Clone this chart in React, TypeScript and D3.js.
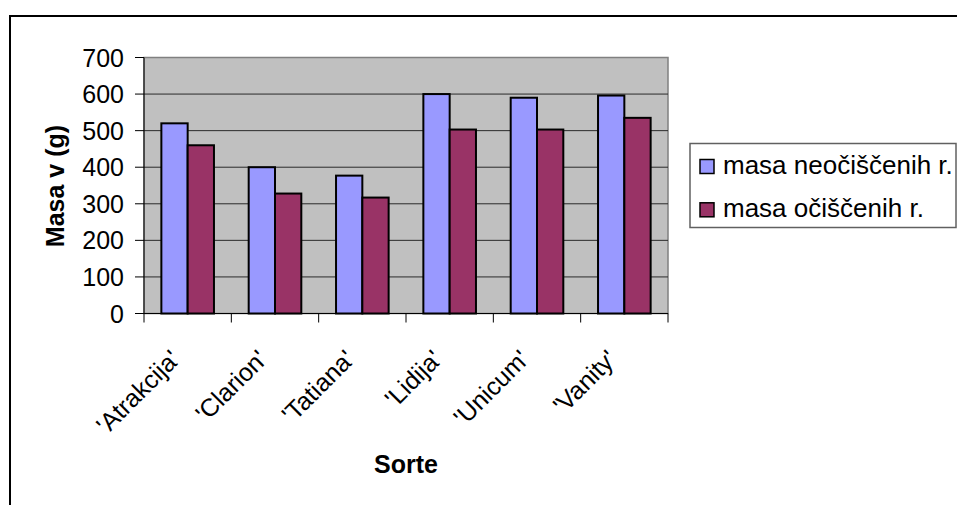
import React from "react";
import * as d3 from "d3";

// Potato varieties and mass per sample (g)
const categories = ["'Atrakcija'", "'Clarion'", "'Tatiana'", "'Lidija'", "'Unicum'", "'Vanity'"];
const seriesNames = ["masa neočiščenih r.", "masa očiščenih r."];
const uncleaned = [520, 400, 377, 600, 590, 596];
const cleaned = [460, 328, 317, 503, 503, 535];
const yTicks = [0, 100, 200, 300, 400, 500, 600, 700];
const colors = ["#9999FF", "#993366"];

const W = 957;
const H = 505;
const FONT = "'Liberation Sans', Arial, Helvetica, sans-serif";

export default function App() {
  const left = 144;
  const right = 668;
  const top = 57.5;
  const bottom = 313.5;

  const x = d3.scaleBand<string>().domain(categories).range([left, right]).paddingInner(0).paddingOuter(0);
  const y = d3.scaleLinear().domain([0, 700]).range([bottom, top]);
  const inner = d3
    .scaleBand<number>()
    .domain([0, 1])
    .range([0, x.bandwidth()])
    .paddingInner(0)
    .paddingOuter(0.66);

  const series = [uncleaned, cleaned];
  const boundaries = [...categories.map((c) => x(c) as number), right];

  return (
    <svg
      width={W}
      height={H}
      style={{ position: "absolute", left: 0, top: 0, background: "#fff" }}
      fontFamily={FONT}
    >
      {/* chart frame */}
      <rect x={10} y={16} width={1000} height={600} fill="#fff" stroke="#000" strokeWidth={2} />

      {/* plot area */}
      <rect x={left} y={top} width={right - left} height={bottom - top} fill="#C0C0C0" stroke="#808080" strokeWidth={1.5} />

      {/* gridlines */}
      {yTicks.slice(1, -1).map((t) => (
        <line key={t} x1={left} x2={right} y1={y(t)} y2={y(t)} stroke="#2a2a2a" strokeWidth={1} />
      ))}

      {/* bars */}
      {series.map((vals, si) =>
        vals.map((v, ci) => (
          <rect
            key={`${si}-${ci}`}
            x={(x(categories[ci]) as number) + (inner(si) as number)}
            y={y(v)}
            width={inner.bandwidth()}
            height={y(0) - y(v)}
            fill={colors[si]}
            stroke="#000"
            strokeWidth={2}
          />
        ))
      )}

      {/* y axis */}
      <line x1={left} x2={left} y1={top} y2={bottom} stroke="#000" strokeWidth={1} />
      {yTicks.map((t) => (
        <g key={t}>
          <line x1={left - 9} x2={left} y1={y(t)} y2={y(t)} stroke="#000" strokeWidth={1} />
          <text x={124} y={y(t)} dy="0.36em" textAnchor="end" fontSize={25} fill="#000">
            {t}
          </text>
        </g>
      ))}

      {/* x axis */}
      <line x1={left} x2={right} y1={bottom} y2={bottom} stroke="#000" strokeWidth={1} />
      {boundaries.map((bx, i) => (
        <line key={i} x1={bx} x2={bx} y1={bottom} y2={bottom + 9} stroke="#000" strokeWidth={1} />
      ))}
      {categories.map((c) => {
        const cx = (x(c) as number) + x.bandwidth() / 2 - 19;
        const cy = 348;
        return (
          <text
            key={c}
            transform={`translate(${cx},${cy}) rotate(-45)`}
            textAnchor="end"
            dy="0.72em"
            fontSize={25}
            fill="#000"
          >
            {c}
          </text>
        );
      })}

      {/* axis titles */}
      <text x={(left + right) / 2} y={473} textAnchor="middle" fontSize={25} fontWeight="bold" fill="#000">
        Sorte
      </text>
      <text transform={`translate(64,186) rotate(-90)`} textAnchor="middle" fontSize={25} fontWeight="bold" fill="#000">
        Masa v (g)
      </text>

      {/* legend */}
      <rect x={690} y={143.5} width={266} height={84} fill="#fff" stroke="#606060" strokeWidth={1.5} />
      {seriesNames.map((n, i) => (
        <g key={n}>
          <rect x={700} y={159.5 + i * 43.3} width={14} height={14} fill={colors[i]} stroke="#000" strokeWidth={1.5} />
          <text x={723} y={173.5 + i * 43.3} fontSize={26} fill="#000">
            {n}
          </text>
        </g>
      ))}
    </svg>
  );
}
